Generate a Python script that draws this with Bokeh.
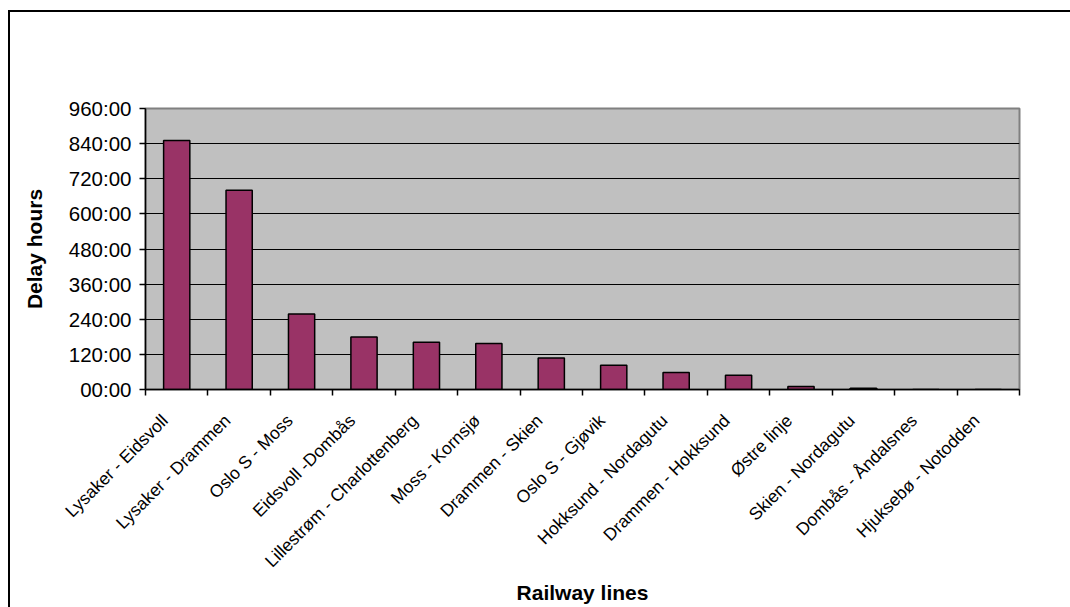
import math
from bokeh.plotting import figure
from bokeh.models import Range1d, FixedTicker, GlobalInlineStyleSheet
from bokeh.embed import file_html
from bokeh.resources import INLINE

# Delay per railway line, in hours
lines = [
    "Lysaker - Eidsvoll", "Lysaker - Drammen", "Oslo S - Moss", "Eidsvoll -Dombås",
    "Lillestrøm - Charlottenberg", "Moss - Kornsjø", "Drammen - Skien", "Oslo S - Gjøvik",
    "Hokksund - Nordagutu", "Drammen - Hokksund", "Østre linje", "Skien - Nordagutu",
    "Dombås - Åndalsnes", "Hjuksebø - Notodden",
]
delay_hours = [851, 681, 258, 179, 161, 157, 108, 83, 58, 49, 10, 4, 0, 0]
y_ticks = [0, 120, 240, 360, 480, 600, 720, 840, 960]
y_tick_labels = ["00:00", "120:00", "240:00", "360:00", "480:00",
                 "600:00", "720:00", "840:00", "960:00"]

FONT = "Liberation Sans"
n = len(lines)
centers = [i + 0.5 for i in range(n)]
# rotated labels sit slightly left of the bar centre
label_pos = [c - 0.19 for c in centers]

p = figure(
    width=1070, height=607,
    x_range=Range1d(0, n), y_range=Range1d(0, 960),
    output_backend="svg", toolbar_location=None,
    min_border_left=145, min_border_right=51,
    min_border_top=108, min_border_bottom=217,
    background_fill_color="#C0C0C0", border_fill_color=None,
)
# white page behind the transparent border, with the chart-area edge
# drawn along the left and top
page_css = (
    "html { background: "
    "linear-gradient(#000, #000) 8px 10px / 2px 2000px no-repeat, "
    "linear-gradient(#000, #000) 8px 10px / 2000px 2px no-repeat, #ffffff; "
    "overflow: hidden; } "
    "body { margin: 0; overflow: hidden; background: transparent; }"
)
p.stylesheets = [GlobalInlineStyleSheet(css=page_css)]
p.outline_line_color = "#808080"
p.outline_line_width = 2

p.vbar(x=centers, top=delay_hours, width=0.42, bottom=0,
       fill_color="#993366", line_color="black", line_width=1.5)

# Y axis
p.yaxis.ticker = FixedTicker(ticks=y_ticks, minor_ticks=[])
p.yaxis.major_label_overrides = dict(zip(y_ticks, y_tick_labels))
p.yaxis.axis_label = "Delay hours"
p.yaxis.axis_label_text_font = FONT
p.yaxis.axis_label_text_font_style = "bold"
p.yaxis.axis_label_text_font_size = "21px"
p.yaxis.axis_label_text_color = "black"
p.yaxis.axis_label_standoff = 20
p.yaxis.major_label_text_font = FONT
p.yaxis.major_label_text_font_size = "20.5px"
p.yaxis.major_label_text_color = "black"
p.yaxis.major_tick_in = 0
p.yaxis.major_tick_out = 6
p.yaxis.major_label_standoff = 8
p.yaxis.axis_line_color = "black"
p.yaxis.axis_line_width = 1.5
p.yaxis.major_tick_line_width = 1.5

# X axis: labels by the bars, ticks on category boundaries
p.xaxis.ticker = FixedTicker(ticks=label_pos, minor_ticks=list(range(n + 1)))
p.xaxis.major_label_overrides = dict(zip(label_pos, lines))
p.xaxis.major_label_orientation = math.pi / 4
p.xaxis.major_label_text_font = FONT
p.xaxis.major_label_text_font_size = "17.5px"
p.xaxis.major_label_text_color = "black"
p.xaxis.major_tick_in = 0
p.xaxis.major_tick_out = 0
p.xaxis.minor_tick_in = 0
p.xaxis.minor_tick_out = 6
p.xaxis.minor_tick_line_color = "black"
p.xaxis.minor_tick_line_width = 1.5
p.xaxis.major_label_standoff = 22
p.xaxis.axis_line_color = "black"
p.xaxis.axis_line_width = 1.5
p.xaxis.axis_label = "Railway lines"
p.xaxis.axis_label_text_font = FONT
p.xaxis.axis_label_text_font_style = "bold"
p.xaxis.axis_label_text_font_size = "21px"
p.xaxis.axis_label_text_color = "black"
p.xaxis.axis_label_standoff = 0

p.xgrid.visible = False
p.ygrid.ticker = FixedTicker(ticks=y_ticks[1:-1])
p.ygrid.grid_line_color = "black"
p.ygrid.grid_line_width = 1.2

open("out.html", "w").write(file_html(p, INLINE))
